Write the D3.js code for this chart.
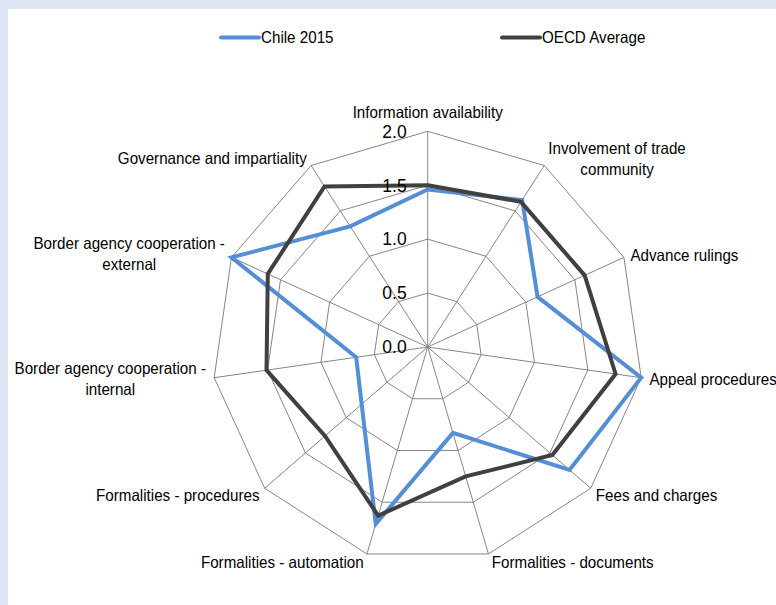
<!DOCTYPE html>
<html>
<head>
<meta charset="utf-8">
<script src="https://cdn.jsdelivr.net/npm/d3@7"></script>
<style>
  html, body { margin: 0; padding: 0; background: #dce6f2; }
  #chart { width: 776px; height: 605px; }
  text { font-family: "Liberation Sans", Arial, sans-serif; fill: #000; }
</style>
</head>
<body>
<div id="chart"></div>
<script>
// axis categories, clockwise from the top
let categories = [
  ["Information availability"],
  ["Involvement of trade", "community"],
  ["Advance rulings"],
  ["Appeal procedures"],
  ["Fees and charges"],
  ["Formalities - documents"],
  ["Formalities - automation"],
  ["Formalities - procedures"],
  ["Border agency cooperation -", "internal"],
  ["Border agency cooperation -", "external"],
  ["Governance and impartiality"]
];
let chile = [1.46, 1.62, 1.12, 2.0, 1.74, 0.83, 1.71, 0.81, 0.67, 2.0, 1.33];
let oecd = [1.5, 1.6, 1.6, 1.76, 1.53, 1.25, 1.63, 1.26, 1.51, 1.63, 1.77];
let ticks = [0, 0.5, 1.0, 1.5, 2.0];
let seriesNames = ["Chile 2015", "OECD Average"];
let seriesColors = ["#558ed5", "#404040"];

let w = 776, h = 605;
let cx = 427.7, cy = 347;
let R = 215.7;

let svg = d3.select("#chart")
  .append("svg")
  .attr("width", w)
  .attr("height", h);

// white panel inside the light blue frame
svg.append("rect")
  .attr("x", 8).attr("y", 9)
  .attr("width", w - 8).attr("height", h - 9)
  .attr("fill", "#ffffff");

let r = d3.scaleLinear().domain([0, 2]).range([0, R]);
let n = categories.length;
let angle = d3.scaleLinear().domain([0, n]).range([0, 2 * Math.PI]);

let pt = (i, v) => {
  let a = angle(i);
  return [cx + r(v) * Math.sin(a), cy - r(v) * Math.cos(a)];
};

let g = svg.append("g");

// rings
ticks.filter(t => t > 0).forEach((t) => {
  g.append("polygon")
    .attr("points", d3.range(n).map(i => pt(i, t).join(",")).join(" "))
    .attr("fill", "none")
    .attr("stroke", "#868686")
    .attr("stroke-width", 1);
});

// spokes
g.selectAll(".spoke")
  .data(d3.range(n))
  .enter()
  .append("line")
  .attr("class", "spoke")
  .attr("x1", cx).attr("y1", cy)
  .attr("x2", (i) => pt(i, 2)[0])
  .attr("y2", (i) => pt(i, 2)[1])
  .attr("stroke", "#868686")
  .attr("stroke-width", 1);

// series
let line = d3.line().curve(d3.curveLinearClosed);
[chile, oecd].forEach((vals, s) => {
  g.append("path")
    .attr("d", line(vals.map((v, i) => pt(i, v))))
    .attr("fill", "none")
    .attr("stroke", seriesColors[s])
    .attr("stroke-width", 4)
    .attr("stroke-linejoin", "miter");
});

// tick labels
g.selectAll(".tick")
  .data(ticks)
  .enter()
  .append("text")
  .attr("class", "tick")
  .attr("x", cx - 21)
  .attr("y", (t) => cy - r(t))
  .attr("dy", "0.36em")
  .attr("text-anchor", "end")
  .style("font-size", "17.5px")
  .text((t) => t.toFixed(1));

// category labels
let sx = 0.92;
categories.forEach((lines, i) => {
  let a = angle(i);
  let s = Math.sin(a), c = Math.cos(a);
  let p = pt(i, 2);
  let lg = g.append("g");
  let t = lg.append("text")
    .attr("text-anchor", "middle")
    .style("font-size", "16.5px");
  lines.forEach((l, j) => {
    t.append("tspan")
      .attr("x", 0)
      .attr("y", j * 21)
      .attr("dy", "0.35em")
      .text(l);
  });
  let bb = t.node().getBBox();
  let bw = bb.width * sx;
  let bh = (lines.length - 1) * 21;
  let off = 9 - 6 * Math.abs(c);
  // anchor point just outside the outer ring
  let x, y;
  if (Math.abs(s) < 0.1) {
    x = p[0];
    y = p[1] - 19 - bh;
  } else if (s > 0) {
    x = p[0] + off + bw / 2;
    y = p[1] - bh / 2 + (c > 0.5 ? -7 : c < -0.9 ? 8 : c < -0.5 ? 7 : c > 0 ? -2 : 2);
  } else {
    x = p[0] - off - bw / 2;
    y = p[1] - bh / 2 + (c > 0.5 ? -7 : c < -0.9 ? 8 : c < -0.5 ? 7 : c > 0 ? -4 : 1);
  }
  if (lines.length > 1 && s > 0) y = p[1] - 7 - bh / 2;
  lg.attr("transform", "translate(" + x + "," + y + ") scale(" + sx + ",1)");
});

// legend
let legX = [221, 502];
seriesNames.forEach((name, s) => {
  let lg = svg.append("g").attr("transform", "translate(" + legX[s] + ",37.5)");
  lg.append("line")
    .attr("x1", 0).attr("x2", 38)
    .attr("y1", 0).attr("y2", 0)
    .attr("stroke", seriesColors[s])
    .attr("stroke-width", 4)
    .attr("stroke-linecap", "round");
  lg.append("text")
    .attr("x", 40 / sx)
    .attr("dy", "0.35em")
    .attr("transform", "scale(" + sx + ",1)")
    .style("font-size", "16.5px")
    .text(name);
});
</script>
</body>
</html>
